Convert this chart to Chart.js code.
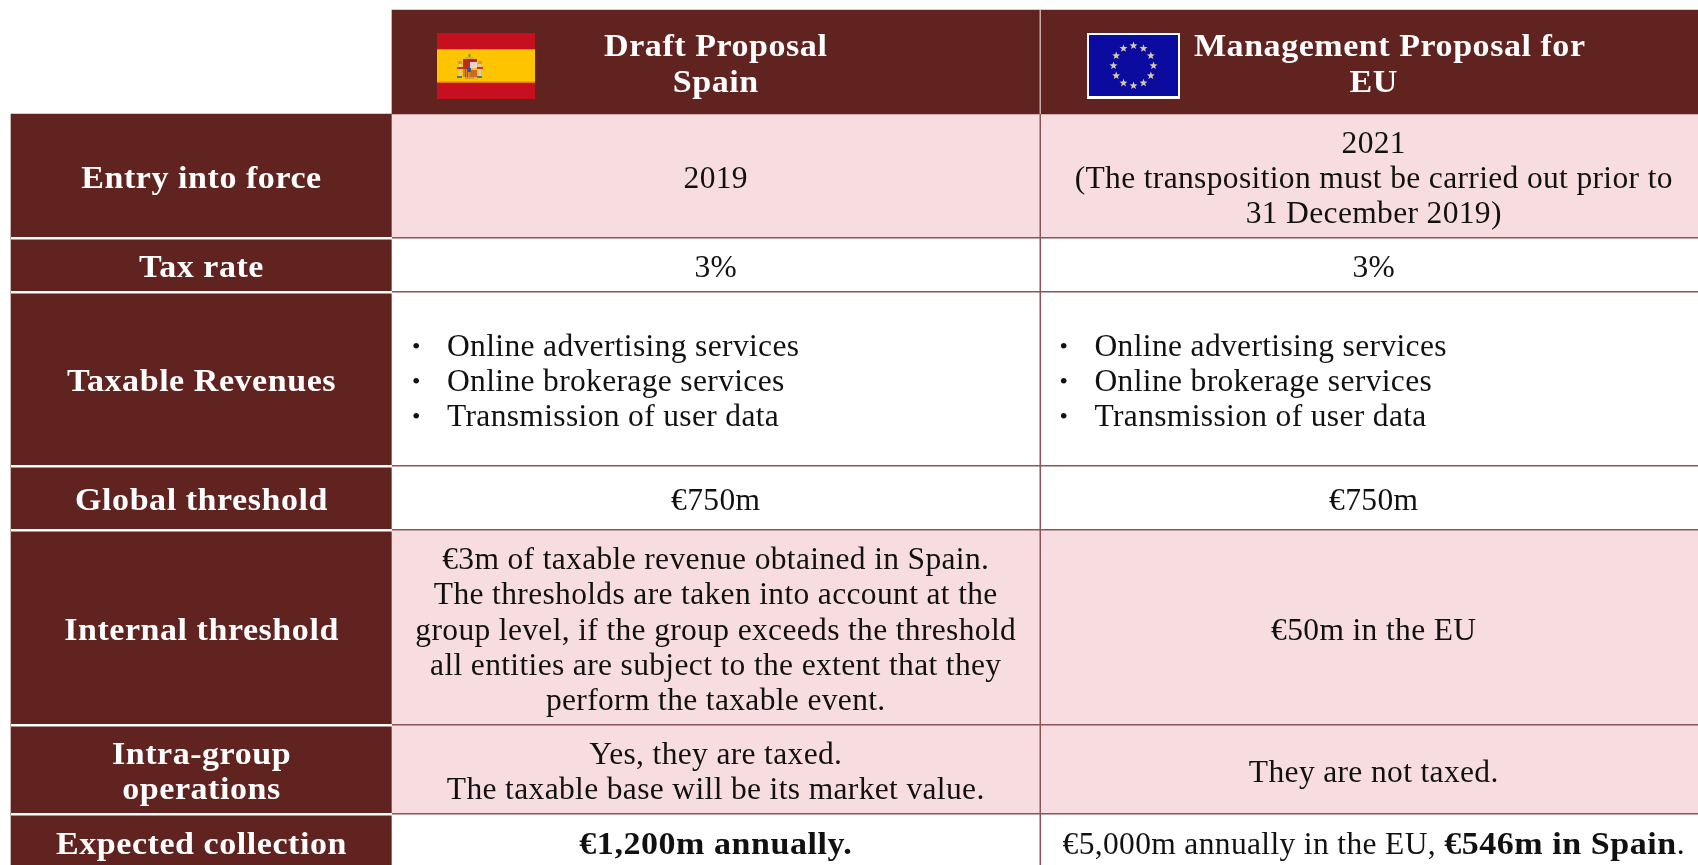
<!DOCTYPE html>
<html>
<head>
<meta charset="utf-8">
<title>Digital tax proposals</title>
<script src="https://cdn.jsdelivr.net/npm/chart.js@4/dist/chart.umd.min.js"></script>
<style>
    html, body { margin: 0; padding: 0; background: #fff; overflow: hidden; }
    canvas { display: block; }
</style>
</head>
<body>
<canvas id="taxTable" width="1698" height="865"></canvas>
<script>
// ------- table content -------
var headerSpain = ["Draft Proposal", "Spain"];
var headerEU = ["Management Proposal for", "EU"];
var rowLabels = [
    ["Entry into force"],
    ["Tax rate"],
    ["Taxable Revenues"],
    ["Global threshold"],
    ["Internal threshold"],
    ["Intra-group", "operations"],
    ["Expected collection"]
];
var spainCells = [
    ["2019"],
    ["3%"],
    ["Online advertising services", "Online brokerage services", "Transmission of user data"],
    ["€750m"],
    ["€3m of taxable revenue obtained in Spain.", "The thresholds are taken into account at the", "group level, if the group exceeds the threshold", "all entities are subject to the extent that they", "perform the taxable event."],
    ["Yes, they are taxed.", "The taxable base will be its market value."],
    ["**€1,200m annually.**"]
];
var euCells = [
    ["2021", "(The transposition must be carried out prior to", "31 December 2019)"],
    ["3%"],
    ["Online advertising services", "Online brokerage services", "Transmission of user data"],
    ["€750m"],
    ["€50m in the EU"],
    ["They are not taxed."],
    ["€5,000m annually in the EU, **€546m in Spain**."]
];
var bulletRow = 2;

// ------- layout, in table units (scales run 1:1 with the page) -------
var colEdges = [11, 392, 1039.5, 1708];
var rowEdges = [114, 238, 292, 466, 530, 725, 814, 869];
var headerTop = 10;
var rowFills = ["#f8dde0", "#ffffff", "#ffffff", "#ffffff", "#f8dde0", "#f8dde0", "#ffffff"];

var dark = "#602320";
var lineColor = "#8d5457";
var serif = '"Liberation Serif", serif';
var lineHeight = 35.3;
var baselineShift = 12;
var boldStretch = 1.08;
var fontSize = 31.5;

//one floating bar per cell, one dataset per row
var datasets = [{
    data: [{ x: [colEdges[1], colEdges[3]], y: (headerTop + rowEdges[0]) / 2 }],
    backgroundColor: dark,
    barThickness: rowEdges[0] - headerTop
}];
rowLabels.forEach(function(label, i) {
    var mid = (rowEdges[i] + rowEdges[i + 1]) / 2;
    datasets.push({
        data: [
            { x: [colEdges[0], colEdges[1]], y: mid },
            { x: [colEdges[1], colEdges[2]], y: mid },
            { x: [colEdges[2], colEdges[3]], y: mid }
        ],
        backgroundColor: [dark, rowFills[i], rowFills[i]],
        barThickness: rowEdges[i + 1] - rowEdges[i]
    });
});

function setFont(ctx, bold) {
    ctx.font = (bold ? "bold " : "") + fontSize + "px " + serif;
    ctx.letterSpacing = bold ? "0.5px" : "0.35px";
}

//splits "a **b** c" into normal and bold runs
function runs(line) {
    return line.split("**").map(function(text, i) {
        return { text: text, bold: i % 2 === 1 };
    }).filter(function(r) { return r.text.length > 0; });
}

function drawLine(ctx, line, x, y, align, bold) {
    var parts = runs(line);
    var total = 0;
    parts.forEach(function(p) {
        p.bold = bold || p.bold;
        p.stretch = p.bold ? boldStretch : 1;
        setFont(ctx, p.bold);
        p.w = ctx.measureText(p.text).width * p.stretch;
        total += p.w;
    });
    var cx = align === "center" ? x - total / 2 : x;
    ctx.textAlign = "left";
    ctx.textBaseline = "alphabetic";
    parts.forEach(function(p) {
        setFont(ctx, p.bold);
        ctx.save();
        ctx.translate(cx, y);
        ctx.scale(p.stretch, 1);
        ctx.fillText(p.text, 0, 0);
        ctx.restore();
        cx += p.w;
    });
}

function drawLines(ctx, lines, x, midY, align, bold) {
    var top = midY - (lines.length - 1) * lineHeight / 2;
    lines.forEach(function(line, i) {
        drawLine(ctx, line, x, top + i * lineHeight + baselineShift, align, bold);
    });
}

function drawStar(ctx, cx, cy, r) {
    ctx.beginPath();
    for (var i = 0; i < 10; i++) {
        var a = -Math.PI / 2 + i * Math.PI / 5;
        var rr = i % 2 ? r * 0.42 : r;
        ctx.lineTo(cx + rr * Math.cos(a), cy + rr * Math.sin(a));
    }
    ctx.closePath();
    ctx.fill();
}

function drawSpainFlag(ctx, px, py) {
    function box(x, y, w, h, c) {
        ctx.fillStyle = c;
        ctx.fillRect(px(x), py(y), w, h);
    }
    box(437, 33, 98, 66, "#c60f1f");
    box(437, 49, 98, 33.5, "#ffc400");
    box(437, 49, 98, 1, "#e88a10");
    box(437, 81.5, 98, 1, "#e88a10");
    //coat of arms
    box(468.5, 54, 2, 3, "#8a8a50");
    box(465, 57, 9, 2, "#e0b030");
    box(463, 59, 14, 3, "#b02a20");
    box(463, 62, 7, 7, "#b8301c");
    box(470, 62, 7, 6, "#e6d2d6");
    box(463, 69, 7, 8, "#d98a1a");
    box(465, 69, 1, 8, "#b8401c");
    box(467, 69, 1, 8, "#b8401c");
    box(470, 70, 7, 7, "#d06a20");
    box(467.5, 68, 3.5, 4, "#2a5a9a");
    box(465, 77, 9, 2, "#c9a040");
    box(458, 61, 4, 3, "#c9a040");
    box(459, 64, 2.5, 12, "#d8cdb0");
    box(457, 67, 6, 2, "#c0392b");
    box(478, 61, 4, 3, "#c9a040");
    box(478.5, 64, 2.5, 12, "#d8cdb0");
    box(477, 67, 6, 2, "#c0392b");
    box(457, 76, 5, 2, "#4a7a8a");
    box(477, 76, 5, 2, "#4a7a8a");
}

function drawEUFlag(ctx, px, py) {
    ctx.fillStyle = "#ffffff";
    ctx.fillRect(px(1087), py(33), 93, 66);
    ctx.fillStyle = "#0b0ba0";
    ctx.fillRect(px(1089), py(35), 89, 61);
    ctx.fillStyle = "#d4cba6";
    for (var i = 0; i < 12; i++) {
        var a = i * Math.PI / 6;
        drawStar(ctx, px(1133.5 + 20 * Math.cos(a)), py(65.7 + 20 * Math.sin(a)), 4.2);
    }
}

var tablePlugin = {
    id: "tablePlugin",
    afterDatasetsDraw: function(chart) {
        var ctx = chart.ctx;
        var px = function(v) { return chart.scales.x.getPixelForValue(v); };
        var py = function(v) { return chart.scales.y.getPixelForValue(v); };
        ctx.save();

        //rules between the rows
        for (var i = 1; i < rowEdges.length - 1; i++) {
            ctx.fillStyle = "#ffffff";
            ctx.fillRect(px(colEdges[0]), py(rowEdges[i]) - 1, colEdges[1] - colEdges[0], 2.5);
            ctx.fillStyle = lineColor;
            ctx.fillRect(px(colEdges[1]), py(rowEdges[i]) - 1, colEdges[3] - colEdges[1], 1.5);
        }
        //column divider
        ctx.fillStyle = "#c9a9a9";
        ctx.fillRect(px(colEdges[2]), py(headerTop), 1.5, rowEdges[0] - headerTop);
        ctx.fillStyle = lineColor;
        ctx.fillRect(px(colEdges[2]), py(rowEdges[0]), 1.5, 865 - rowEdges[0]);

        //flags
        drawSpainFlag(ctx, px, py);
        drawEUFlag(ctx, px, py);

        //header text, the long EU line sits right of its column centre to clear the flag
        var spainMid = px((colEdges[1] + colEdges[2]) / 2);
        var euMid = px((colEdges[2] + colEdges[3]) / 2);
        var labelMid = px((colEdges[0] + colEdges[1]) / 2);
        var headMid = py((headerTop + rowEdges[0]) / 2);
        ctx.fillStyle = "#ffffff";
        drawLines(ctx, headerSpain, spainMid, headMid, "center", true);
        drawLine(ctx, headerEU[0], euMid + 16, headMid - lineHeight / 2 + baselineShift, "center", true);
        drawLine(ctx, headerEU[1], euMid, headMid + lineHeight / 2 + baselineShift, "center", true);

        //body text
        rowLabels.forEach(function(label, r) {
            var mid = py((rowEdges[r] + rowEdges[r + 1]) / 2);
            ctx.fillStyle = "#ffffff";
            drawLines(ctx, label, labelMid, mid, "center", true);
            ctx.fillStyle = "#111111";
            if (r === bulletRow) {
                [[spainCells[r], px(colEdges[1] + 55), px(colEdges[1] + 20)],
                 [euCells[r], px(colEdges[2] + 55), px(colEdges[2] + 20)]].forEach(function(c) {
                    drawLines(ctx, c[0], c[1], mid, "left", false);
                    fontSize = 24;
                    c[0].forEach(function(line, k) {
                        drawLine(ctx, "•", c[2], mid + (k - 1) * lineHeight + baselineShift - 2, "left", false);
                    });
                    fontSize = 31.5;
                });
            } else {
                drawLines(ctx, spainCells[r], spainMid, mid, "center", false);
                drawLines(ctx, euCells[r], euMid, mid, "center", false);
            }
        });
        ctx.restore();
    }
};

new Chart("taxTable", {
    type: "bar",
    data: { datasets: datasets },
    options: {
        indexAxis: "y",
        responsive: false,
        animation: false,
        layout: { padding: 0 },
        datasets: { bar: { grouped: false, borderWidth: 0 } },
        plugins: { legend: { display: false }, tooltip: { enabled: false }, title: { display: false } },
        scales: {
            x: { type: "linear", min: 0, max: 1698, display: false },
            y: { type: "linear", min: 0, max: 865, reverse: true, offset: false, display: false }
        }
    },
    plugins: [tablePlugin]
});
</script>
</body>
</html>
